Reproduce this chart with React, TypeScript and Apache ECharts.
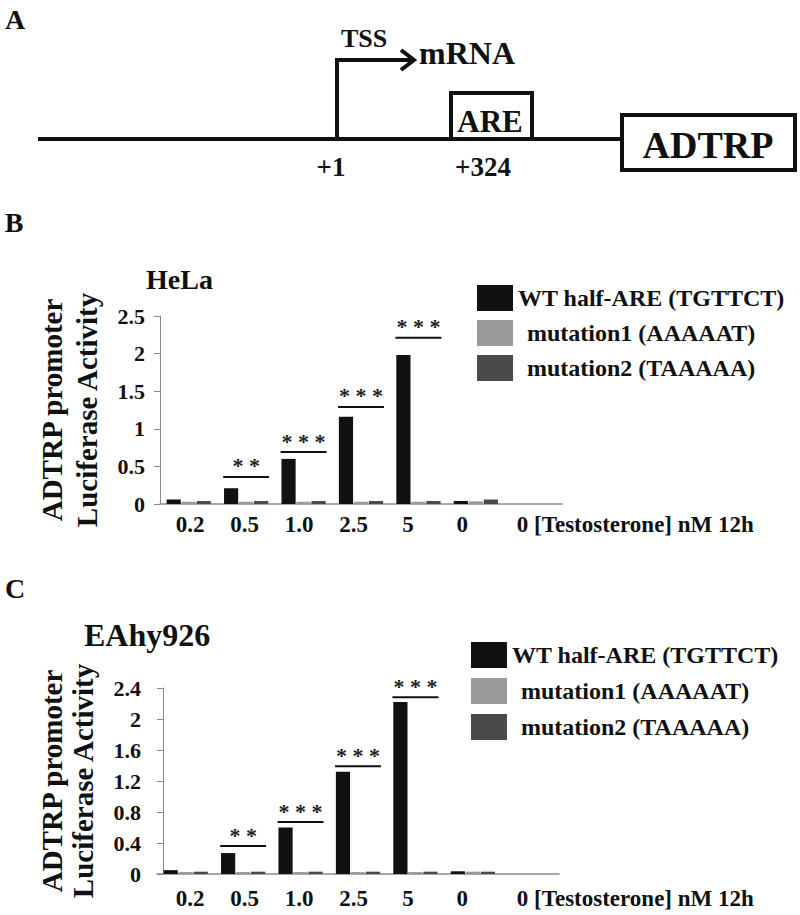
import React, { useEffect, useRef } from "react";
import * as echarts from "echarts";

// ---------- data ----------
const doseLabels = ["0.2", "0.5", "1.0", "2.5", "5", "0", "0"];
const doseAxisTitle = "[Testosterone] nM 12h";
const seriesNames = ["WT half-ARE (TGTTCT)", "mutation1 (AAAAAT)", "mutation2 (TAAAAA)"];
const seriesColors = ["#111111", "#9a9a9a", "#4a4a4a"];

const helaWT = [0.06, 0.21, 0.6, 1.16, 1.98, 0.04, null];
const helaMut1 = [0.03, 0.03, 0.03, 0.03, 0.03, 0.035, null];
const helaMut2 = [0.04, 0.04, 0.04, 0.04, 0.04, 0.06, null];

const eahyWT = [0.05, 0.27, 0.6, 1.32, 2.22, 0.035, null];
const eahyMut1 = [0.025, 0.025, 0.025, 0.025, 0.025, 0.03, null];
const eahyMut2 = [0.03, 0.03, 0.03, 0.03, 0.03, 0.03, null];

const helaYMax = 2.5;
const helaYInterval = 0.5;
const eahyYMax = 2.4;
const eahyYInterval = 0.4;

const sigCategories = [1, 2, 3, 4];
const sigLabels = ["* *", "* * *", "* * *", "* * *"];
const helaSigLevels = [0.36, 0.69, 1.29, 2.21];
const eahySigLevels = [0.36, 0.67, 1.39, 2.28];

const yAxisTitle = "ADTRP promoter\nLuciferase Activity";

// ---------- styles ----------
const SERIF = "'Liberation Serif', 'Times New Roman', serif";
const AXIS_GRAY = "#8a8a8a";
const boldText = (size: number) => ({
  fontFamily: SERIF,
  fontWeight: "bold" as const,
  fontSize: size,
  color: "#111",
});

const labelAxisData = doseLabels.map((d, i) =>
  i === doseLabels.length - 1
    ? { value: `${d} ${doseAxisTitle}`, textStyle: { align: "left" } }
    : d
);

function sigSeries(xIdx: number, levels: number[]) {
  return {
    type: "custom",
    xAxisIndex: xIdx,
    yAxisIndex: xIdx,
    silent: true,
    z: 5,
    data: sigCategories.map((c, i) => [c, levels[i]]),
    renderItem: (params: any, api: any) => {
      const p = api.coord([api.value(0), api.value(1)]);
      const band = api.size([1, 0])[0];
      const half = band * 0.4;
      return {
        type: "group",
        children: [
          {
            type: "line",
            shape: { x1: p[0] - half, y1: p[1], x2: p[0] + half, y2: p[1] },
            style: { stroke: "#111", lineWidth: 2 },
          },
          {
            type: "text",
            x: p[0],
            y: p[1],
            style: {
              text: sigLabels[params.dataIndex],
              fontFamily: SERIF,
              fontWeight: "bold",
              fontSize: 22,
              fill: "#222",
              align: "center",
              verticalAlign: "bottom",
            },
          },
        ],
      };
    },
  };
}

function barSeries(xIdx: number, values: (number | null)[][]) {
  return values.map((vals, k) => ({
    name: seriesNames[k],
    type: "bar",
    xAxisIndex: xIdx,
    yAxisIndex: xIdx,
    barGap: "6%",
    barCategoryGap: "23%",
    itemStyle: { color: seriesColors[k] },
    data: vals,
  }));
}

function valueAxis(gridIndex: number, max: number, interval: number, margin: number, nameGap: number, lineHeight: number, offset: number) {
  return {
    type: "value",
    gridIndex,
    min: 0,
    max,
    interval,
    offset,
    axisLine: { show: true, lineStyle: { color: AXIS_GRAY, width: 1 } },
    axisTick: { show: true, length: 6, lineStyle: { color: AXIS_GRAY } },
    splitLine: { show: false },
    axisLabel: { ...boldText(22), margin },
    name: yAxisTitle,
    nameLocation: "middle",
    nameGap,
    nameTextStyle: { ...boldText(29), lineHeight, align: "center" },
  };
}

function barXAxis(gridIndex: number) {
  return {
    type: "category",
    gridIndex,
    data: doseLabels,
    axisLine: { show: true, lineStyle: { color: AXIS_GRAY, width: 1.5 } },
    axisTick: { show: false },
    axisLabel: { show: false },
  };
}

function labelXAxis(gridIndex: number, margin: number) {
  return {
    type: "category",
    gridIndex,
    data: labelAxisData,
    axisLine: { show: false },
    axisTick: { show: false },
    axisLabel: { ...boldText(23), interval: 0, margin },
  };
}

function legend(left: number, top: number, gap: number) {
  return {
    data: seriesNames,
    orient: "vertical",
    left,
    top,
    icon: "rect",
    itemWidth: 36,
    itemHeight: 26,
    itemGap: gap,
    selectedMode: false,
    formatter: (name: string) => (name.startsWith("WT") ? `{w|${name}}` : `{m|${name}}`),
    textStyle: {
      ...boldText(24),
      rich: {
        w: { ...boldText(24) },
        m: { ...boldText(24), padding: [0, 0, 0, 9] },
      },
    },
  };
}

function panelAGraphics() {
  const stroke = { stroke: "#111", lineWidth: 4, fill: "none" };
  const t = (text: string, x: number, y: number, size: number, align = "center") => ({
    type: "text",
    x,
    y,
    style: { text, ...boldText(size), fill: "#111", align, verticalAlign: "middle" },
  });
  return [
    { type: "line", shape: { x1: 38, y1: 139, x2: 622, y2: 139 }, style: { stroke: "#111", lineWidth: 4 } },
    { type: "polyline", shape: { points: [[337, 139], [337, 60], [413, 60]] }, style: stroke },
    { type: "polyline", shape: { points: [[401, 50], [414, 60], [401, 70]] }, style: stroke },
    { type: "rect", shape: { x: 451, y: 93, width: 81, height: 46 }, style: { ...stroke, fill: "#fff" } },
    { type: "rect", shape: { x: 622, y: 115, width: 173, height: 55 }, style: { ...stroke, fill: "#fff" } },
    t("TSS", 364, 38, 26),
    t("mRNA", 419, 53, 32, "left"),
    t("ARE", 490, 121, 31),
    t("ADTRP", 708, 145, 38),
    t("+1", 331, 167, 27),
    t("+324", 483, 167, 27),
    t("A", 15, 19, 28),
    t("B", 14, 222, 28),
    t("C", 15, 588, 28),
  ];
}

export default function App() {
  const ref = useRef<HTMLDivElement>(null);
  useEffect(() => {
    if (!ref.current) return;
    const chart = echarts.init(ref.current, null, { renderer: "svg" });
    const option: any = {
      animation: false,
      backgroundColor: "#fff",
      title: [
        { text: "HeLa", left: 141, top: 260, textStyle: boldText(28) },
        { text: "EAhy926", left: 79, top: 614, textStyle: boldText(32) },
      ],
      legend: [legend(472, 280, 9), legend(466, 637, 10)],
      grid: [
        { left: 160, top: 316, width: 402, height: 188 },
        { left: 163, top: 316, width: 381, height: 188 },
        { left: 157, top: 688, width: 402, height: 186 },
        { left: 163, top: 688, width: 381, height: 186 },
      ],
      xAxis: [barXAxis(0), labelXAxis(1, 9), barXAxis(2), labelXAxis(3, 13)],
      yAxis: [
        valueAxis(0, helaYMax, helaYInterval, 15, 56, 35, 0),
        { type: "value", gridIndex: 1, show: false },
        valueAxis(2, eahyYMax, eahyYInterval, 22, 65, 31, -6),
        { type: "value", gridIndex: 3, show: false },
      ],
      series: [
        ...barSeries(0, [helaWT, helaMut1, helaMut2]),
        sigSeries(0, helaSigLevels),
        ...barSeries(2, [eahyWT, eahyMut1, eahyMut2]),
        sigSeries(2, eahySigLevels),
      ],
      graphic: panelAGraphics(),
    };
    chart.setOption(option);
    return () => chart.dispose();
  }, []);
  return (
    <div
      ref={ref}
      style={{ position: "fixed", left: 0, top: 0, width: 800, height: 915, background: "#fff" }}
    />
  );
}
